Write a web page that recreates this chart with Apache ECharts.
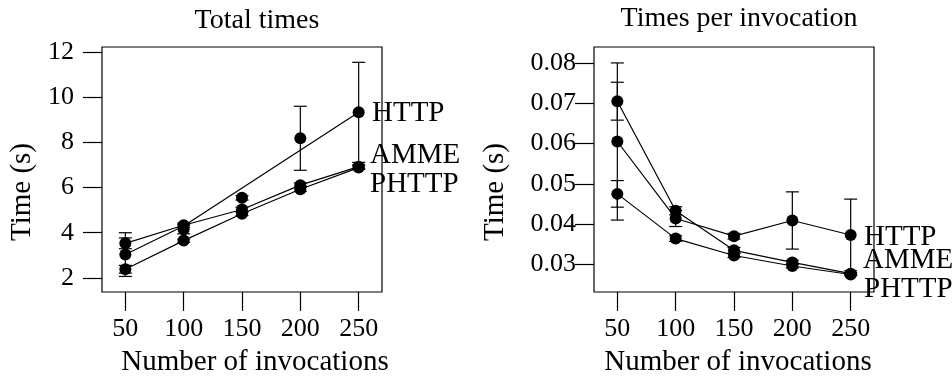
<!DOCTYPE html>
<html>
<head>
<meta charset="utf-8">
<script src="https://cdn.jsdelivr.net/npm/echarts@6/dist/echarts.min.js"></script>
<style>
  html, body { margin: 0; padding: 0; background: #fff; }
  #chart { width: 952px; height: 376px; }
</style>
</head>
<body>
<div id="chart"></div>
<script>
const invocations = [50, 100, 150, 200, 250];
const xTicks = [50, 100, 150, 200, 250];
const totalTicks = [2, 4, 6, 8, 10, 12];
const perTicks = [0.03, 0.04, 0.05, 0.06, 0.07, 0.08];

// Total times (s), means and half-widths of the error bars
const totalHTTP = [3.03, 4.15, 5.55, 8.19, 9.34];
const totalHTTPErr = [0.97, 0.2, 0.1, 1.42, 2.22];
const totalAMME = [3.53, 4.33, 5.03, 6.11, 6.93];
const totalAMMEErr = [0.24, 0.1, 0.1, 0.1, 0.08];
const totalPHTTP = [2.38, 3.65, 4.84, 5.93, 6.89];
const totalPHTTPErr = [0.17, 0.07, 0.08, 0.1, 0.08];
// in the total panel the HTTP line goes straight from 100 to 250
const totalHTTPLineX = [50, 100, 250];
const totalHTTPLine = [3.03, 4.3, 9.34];

// Times per invocation (s)
const perHTTP = [0.0605, 0.0414, 0.0370, 0.0409, 0.0373];
const perHTTPErr = [0.0195, 0.002, 0.0007, 0.0071, 0.0089];
const perAMME = [0.0705, 0.0433, 0.0335, 0.0305, 0.0277];
const perAMMEErr = [0.0047, 0.001, 0.0007, 0.0005, 0.0003];
const perPHTTP = [0.0475, 0.0364, 0.0322, 0.0296, 0.0275];
const perPHTTPErr = [0.0033, 0.0007, 0.0005, 0.0005, 0.0003];

const FONT = '"Liberation Serif", "DejaVu Serif", serif';
const LW = 1.2;

const chart = echarts.init(document.getElementById('chart'));

function pairs(xs, ys) {
  return xs.map((x, i) => [x, ys[i]]);
}

function pathSeries(gi, xs, ys) {
  return {
    type: 'line', xAxisIndex: gi, yAxisIndex: gi,
    data: pairs(xs, ys), symbol: 'none',
    lineStyle: { color: '#000', width: LW }, z: 2
  };
}

function pointSeries(gi, ys) {
  return {
    type: 'scatter', xAxisIndex: gi, yAxisIndex: gi,
    data: pairs(invocations, ys), symbol: 'circle', symbolSize: 12,
    itemStyle: { color: '#000', opacity: 1 }, z: 3
  };
}

function errorSeries(gi, ys, errs) {
  return {
    type: 'custom', xAxisIndex: gi, yAxisIndex: gi,
    data: invocations.map((x, i) => [x, ys[i] - errs[i], ys[i] + errs[i]]),
    renderItem: function (params, api) {
      const lo = api.coord([api.value(0), api.value(1)]);
      const hi = api.coord([api.value(0), api.value(2)]);
      const w = 6.5;
      const st = { stroke: '#000', lineWidth: LW };
      return {
        type: 'group',
        children: [
          { type: 'line', shape: { x1: lo[0], y1: lo[1], x2: hi[0], y2: hi[1] }, style: st },
          { type: 'line', shape: { x1: lo[0] - w, y1: lo[1], x2: lo[0] + w, y2: lo[1] }, style: st },
          { type: 'line', shape: { x1: hi[0] - w, y1: hi[1], x2: hi[0] + w, y2: hi[1] }, style: st }
        ]
      };
    },
    z: 1
  };
}

function xAxis(gi) {
  return {
    type: 'value', gridIndex: gi, min: 30, max: 270,
    axisLine: { show: false },
    axisTick: { show: true, length: 19, customValues: xTicks, lineStyle: { color: '#000', width: LW } },
    axisLabel: { customValues: xTicks, margin: 24, color: '#000', fontFamily: FONT, fontSize: 26 },
    splitLine: { show: false }
  };
}

function yAxis(gi, min, max, ticks, margin, fmt) {
  return {
    type: 'value', gridIndex: gi, min: min, max: max,
    axisLine: { show: false },
    axisTick: { show: true, length: 19, customValues: ticks, lineStyle: { color: '#000', width: LW } },
    axisLabel: { customValues: ticks, margin: margin, color: '#000', fontFamily: FONT, fontSize: 26, formatter: fmt },
    splitLine: { show: false }
  };
}

function text(x, y, s, size, align, rot) {
  return {
    type: 'text', x: x, y: y, rotation: rot || 0, z: 10,
    style: { text: s, fill: '#000', fontFamily: FONT, fontSize: size, align: align, verticalAlign: 'middle' }
  };
}

chart.setOption({
  animation: false,
  backgroundColor: '#fff',
  grid: [
    { left: 102, top: 47, width: 280, height: 245, show: true, borderColor: '#000', borderWidth: LW, containLabel: false },
    { left: 594, top: 47, width: 280, height: 245, show: true, borderColor: '#000', borderWidth: LW, containLabel: false }
  ],
  xAxis: [xAxis(0), xAxis(1)],
  yAxis: [
    yAxis(0, 1.37, 12.24, totalTicks, 28, v => String(Math.round(v))),
    yAxis(1, 0.02315, 0.08395, perTicks, 18, v => v.toFixed(2))
  ],
  series: [
    errorSeries(0, totalHTTP, totalHTTPErr),
    errorSeries(0, totalAMME, totalAMMEErr),
    errorSeries(0, totalPHTTP, totalPHTTPErr),
    pathSeries(0, totalHTTPLineX, totalHTTPLine),
    pathSeries(0, invocations, totalAMME),
    pathSeries(0, invocations, totalPHTTP),
    pointSeries(0, totalHTTP),
    pointSeries(0, totalAMME),
    pointSeries(0, totalPHTTP),

    errorSeries(1, perHTTP, perHTTPErr),
    errorSeries(1, perAMME, perAMMEErr),
    errorSeries(1, perPHTTP, perPHTTPErr),
    pathSeries(1, invocations, perHTTP),
    pathSeries(1, invocations, perAMME),
    pathSeries(1, invocations, perPHTTP),
    pointSeries(1, perHTTP),
    pointSeries(1, perAMME),
    pointSeries(1, perPHTTP)
  ],
  graphic: [
    text(257, 21, 'Total times', 28, 'center'),
    text(739, 19, 'Times per invocation', 28, 'center'),
    text(255, 362, 'Number of invocations', 29, 'center'),
    text(738, 362, 'Number of invocations', 29, 'center'),
    text(22, 192, 'Time (s)', 29, 'center', Math.PI / 2),
    text(495, 192, 'Time (s)', 29, 'center', Math.PI / 2),
    text(372, 113, 'HTTP', 29, 'left'),
    text(370, 155, 'AMME', 29, 'left'),
    text(370, 184, 'PHTTP', 29, 'left'),
    text(864, 237, 'HTTP', 29, 'left'),
    text(863, 260, 'AMME', 29, 'left'),
    text(864, 289, 'PHTTP', 29, 'left')
  ]
});
</script>
</body>
</html>
